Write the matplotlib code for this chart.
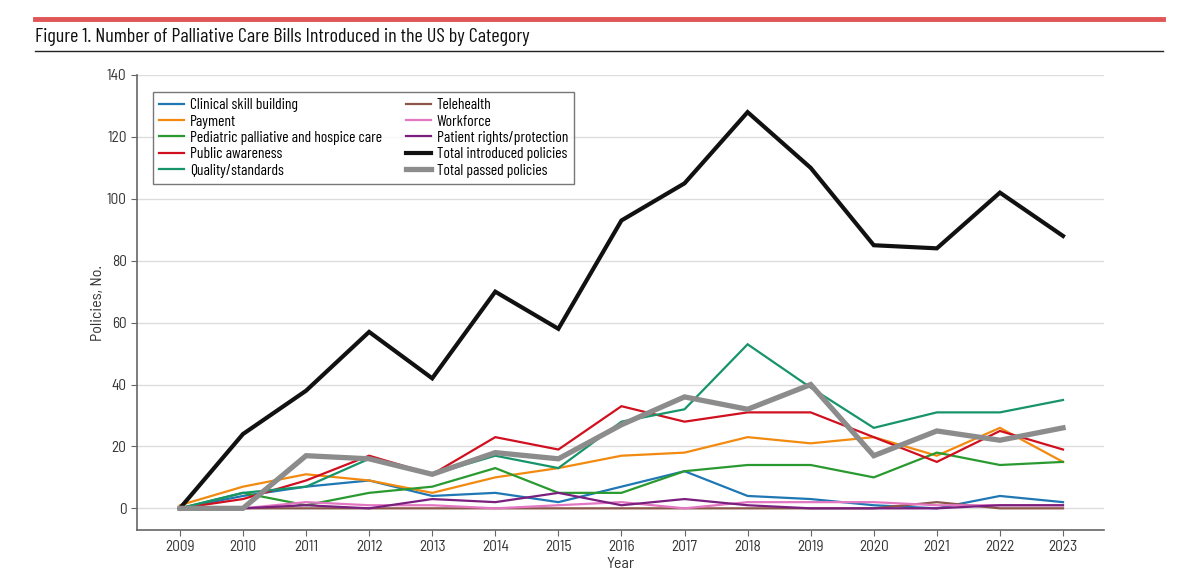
import matplotlib
matplotlib.use("Agg")
import matplotlib.pyplot as plt
from matplotlib.lines import Line2D

SEMI = ['Barlow Semi Condensed', 'Lato', 'DejaVu Sans']
COND = ['Barlow Condensed', 'Barlow Semi Condensed', 'Lato', 'DejaVu Sans']
plt.rcParams['font.family'] = SEMI

years = list(range(2009, 2024))
clinical = [0, 4, 7, 9, 4, 5, 2, 7, 12, 4, 3, 1, 0, 4, 2]
payment = [1, 7, 11, 9, 5, 10, 13, 17, 18, 23, 21, 23, 17, 26, 15]
pediatric = [0, 5, 1, 5, 7, 13, 5, 5, 12, 14, 14, 10, 18, 14, 15]
public = [0, 3, 9, 17, 11, 23, 19, 33, 28, 31, 31, 23, 15, 25, 19]
quality = [0, 5, 7, 16, 11, 17, 13, 28, 32, 53, 39, 26, 31, 31, 35]
telehealth = [0, 0, 0, 0, 0, 0, 0, 0, 0, 0, 0, 0, 2, 0, 0]
workforce = [0, 0, 2, 1, 1, 0, 1, 2, 0, 2, 2, 2, 1, 1, 1]
rights = [0, 0, 1, 0, 3, 2, 5, 1, 3, 1, 0, 0, 0, 1, 1]
total_intro = [0, 24, 38, 57, 42, 70, 58, 93, 105, 128, 110, 85, 84, 102, 88]
total_passed = [0, 0, 17, 16, 11, 18, 16, 27, 36, 32, 40, 17, 25, 22, 26]

series = [
    ("Clinical skill building", clinical, "#1f77b4", 1.6),
    ("Payment", payment, "#f28a0f", 1.6),
    ("Pediatric palliative and hospice care", pediatric, "#2a9a30", 1.6),
    ("Public awareness", public, "#d0101f", 1.6),
    ("Quality/standards", quality, "#17946a", 1.6),
    ("Telehealth", telehealth, "#8c564b", 1.6),
    ("Workforce", workforce, "#e377c2", 1.6),
    ("Patient rights/protection", rights, "#7b1f7f", 1.6),
    ("Total introduced policies", total_intro, "#111111", 3.0),
    ("Total passed policies", total_passed, "#8c8c8c", 3.8),
]

fig = plt.figure(figsize=(11.99, 5.8), dpi=100)
ax = fig.add_axes([137/1199, 1 - 530/580, (1104-137)/1199, (530-75)/580])

handles = []
for name, vals, col, lw in series:
    h, = ax.plot(years, vals, color=col, lw=lw, label=name, solid_joinstyle='miter')
    handles.append(h)

ax.set_xlim(2008.32, 2023.65)
ax.set_ylim(-7, 140)
ax.set_xticks(years)
ax.set_yticks(range(0, 141, 20))
ax.yaxis.grid(True, color="#dddddd", lw=1)
ax.set_axisbelow(True)
for s in ["top", "right"]:
    ax.spines[s].set_visible(False)
for s in ["left", "bottom"]:
    ax.spines[s].set_color("#666666")
    ax.spines[s].set_linewidth(1.2)
ax.tick_params(colors="#333333", labelsize=11, length=4, color="#666666")
ax.set_xlabel("Year", fontsize=11.5, color="#333333", labelpad=2)
ax.set_ylabel("Policies, No.", fontsize=11.5, color="#333333", labelpad=1)

leg = ax.legend(handles=handles, ncol=2, loc="upper left",
                bbox_to_anchor=((153-137)/(1104-137), (530-92)/(530-75)),
                borderaxespad=0,
                prop={'family': COND, 'size': 11.2},
                frameon=True, fancybox=False, edgecolor="#555555",
                handlelength=1.6, columnspacing=1.5, labelspacing=0.15,
                borderpad=0.4, handletextpad=0.4)
leg.get_frame().set_linewidth(1.0)

fig.add_artist(Line2D([35/1199, 1163/1199], [1-19/580, 1-19/580], color="#e05555", lw=3.5))
fig.add_artist(Line2D([35/1199, 1163/1199], [1-51/580, 1-51/580], color="#222222", lw=1.0))
fig.text(35/1199, 1-37/580, "Figure 1. Number of Palliative Care Bills Introduced in the US by Category",
         fontsize=14.5, family=COND, color="#111111", va="center", ha="left")

fig.savefig("out.png", dpi=100, facecolor="white")
